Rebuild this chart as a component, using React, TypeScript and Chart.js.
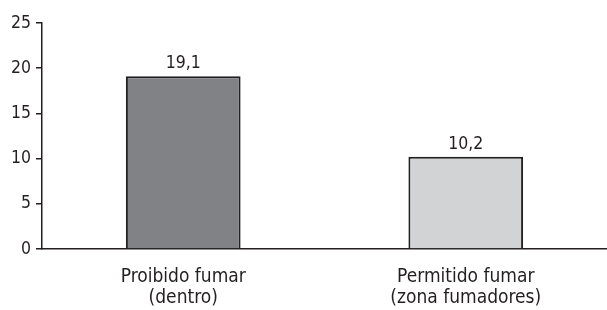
import React, { useEffect, useRef } from "react";
import { Chart, registerables } from "chart.js";

Chart.register(...registerables);

const categories: string[][] = [["Proibido fumar", "(dentro)"], ["Permitido fumar", "(zona fumadores)"]];
const values: number[] = [19.1, 10.2];
const valueLabels: string[] = ["19,1", "10,2"];
const barColors: string[] = ["#808285", "#d1d3d4"];
const yTicks: number[] = [0, 5, 10, 15, 20, 25];

const INK = "#231f20";
const FONT = "'DejaVu Sans Condensed', 'Liberation Sans', Arial, sans-serif";

const valueLabelPlugin = {
  id: "valueLabels",
  afterDatasetsDraw(chart: any) {
    const ctx = chart.ctx;
    const meta = chart.getDatasetMeta(0);
    ctx.save();
    ctx.fillStyle = INK;
    ctx.font = `17.5px ${FONT}`;
    ctx.textAlign = "center";
    ctx.textBaseline = "alphabetic";
    meta.data.forEach((bar: any, i: number) => {
      ctx.fillText(valueLabels[i], bar.x, bar.y - 8);
    });
    ctx.restore();
  },
};

export default function App() {
  const ref = useRef<HTMLCanvasElement | null>(null);
  useEffect(() => {
    if (!ref.current) return;
    const chart = new Chart(ref.current, {
      type: "bar",
      data: {
        labels: categories,
        datasets: [
          {
            data: values,
            backgroundColor: barColors,
            borderColor: INK,
            borderWidth: 2,
            barPercentage: 0.406,
            categoryPercentage: 1,
          },
        ],
      },
      options: {
        responsive: false,
        animation: false,
        layout: { padding: { top: 23, right: 0, left: 0, bottom: 0 } },
        plugins: { legend: { display: false }, tooltip: { enabled: false } },
        scales: {
          x: {
            grid: { display: false, drawTicks: false },
            border: { display: true, color: INK, width: 1.5 },
            ticks: {
              color: INK,
              font: { family: FONT, size: 19, lineHeight: 1.1 },
              padding: 18,
              maxRotation: 0,
              autoSkip: false,
            },
            afterFit: (s: any) => {
              s.height = 61;
            },
          },
          y: {
            min: 0,
            max: 25,
            afterBuildTicks: (s: any) => {
              s.ticks = yTicks.map((v) => ({ value: v }));
            },
            grid: { drawOnChartArea: false, drawTicks: true, tickLength: 6, color: INK, lineWidth: 1.5 },
            border: { display: true, color: INK, width: 1.5 },
            ticks: {
              color: INK,
              font: { family: FONT, size: 17.5 },
              padding: 5,
            },
            afterFit: (s: any) => {
              s.width = 42;
            },
          },
        },
      },
      plugins: [valueLabelPlugin],
    });
    return () => chart.destroy();
  }, []);
  return (
    <div style={{ position: "fixed", left: 0, top: 0, width: 607, height: 310, background: "#fff" }}>
      <canvas ref={ref} width={607} height={310} style={{ width: 607, height: 310 }} />
    </div>
  );
}
